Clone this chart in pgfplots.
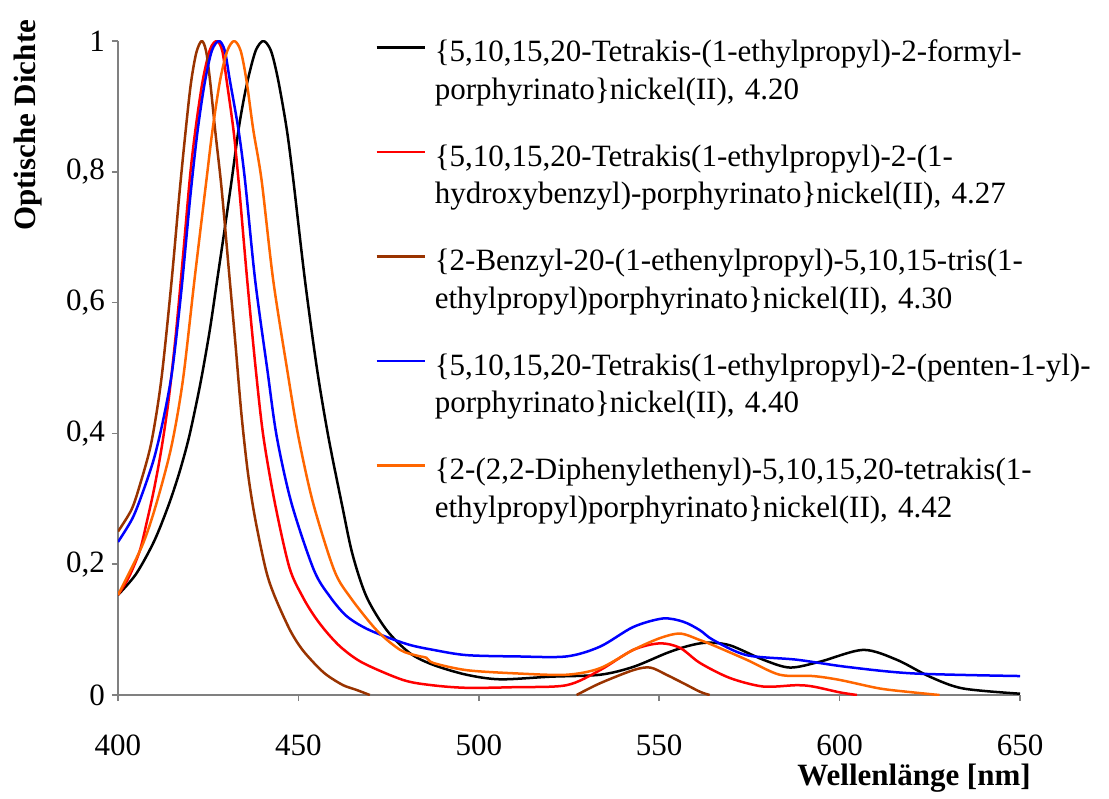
\documentclass[border=0pt]{standalone}
\usepackage{fontspec}
\setmainfont{Liberation Serif}
\usepackage{pgfplots}
\pgfplotsset{compat=1.18}
\definecolor{cbrown}{RGB}{153,51,0}
\definecolor{corange}{RGB}{255,102,0}
\definecolor{axgray}{RGB}{128,128,128}
\newcommand{\fs}{\fontsize{15.5}{18.6}\selectfont}

\begin{document}
\begin{tikzpicture}
\begin{axis}[
  name=ax,
  scale only axis,
  width=451pt, height=327pt,
  xmin=400, xmax=650, ymin=0, ymax=1,
  axis x line*=bottom, axis y line*=left,
  axis line style={axgray, line width=0.8pt},
  tick style={axgray, line width=0.8pt},
  tick align=outside, major tick length=3pt,
  xtick={400,450,500,550,600,650},
  ytick={0,0.2,0.4,0.6,0.8,1},
  /pgf/number format/assume math mode=true,
  yticklabel style={/pgf/number format/use comma, /pgf/number format/fixed},
  xticklabel style={yshift=-13.5pt},
  tick label style={font=\fs},
  xlabel={Wellenlänge [nm]},
  ylabel={Optische Dichte},
  xlabel style={font=\fs\bfseries, at={(axis description cs:0.8825,0)}, anchor=center, yshift=-41.5pt},
  ylabel style={font=\fs\bfseries, at={(axis description cs:-0.0998,0.871)}, anchor=center},
  legend image code/.code={\draw[#1, line width=1.25pt] (0pt,7.2pt) -- (24pt,7.2pt);},
  legend style={at={(axis cs:471.2,1.002)}, anchor=north west, draw=none, fill=none,
    font=\fs, inner sep=0pt, row sep=40pt, column sep=4.5pt,
    nodes={inner sep=0pt, text width=335pt, align=left},
    cells={anchor=base west}},
  every axis plot/.append style={line width=1.25pt, line join=round, smooth, tension=0.5},
  unbounded coords=jump,
]
\addplot[black] coordinates {
(400,0.153) (405,0.185) (410,0.235) (414,0.290) (417,0.340) (419.5,0.390)
(421.5,0.440) (423.3,0.490) (425.5,0.560) (427.5,0.635) (429.5,0.710) (431.5,0.787)
(433.4,0.864) (435,0.915) (436.6,0.955) (438.3,0.987) (440.3,1.0) (442.4,0.985)
(444.4,0.940) (446.8,0.864) (448.6,0.787) (451.8,0.635) (455.2,0.497) (458.3,0.395)
(462.0,0.293) (465,0.215) (468.9,0.150) (474.5,0.099) (480.9,0.064) (487.4,0.046)
(496.6,0.031) (505.9,0.024) (519.8,0.028) (533.6,0.031) (542.8,0.043) (552,0.064)
(558,0.075) (563.2,0.080) (569.6,0.076) (578.8,0.054) (586.2,0.042) (594.6,0.051)
(606.5,0.069) (615.8,0.054) (625,0.028) (634.2,0.010) (650,0.002)
};
\addlegendentry{\{5,10,15,20-Tetrakis-(1-ethylpropyl)-2-formyl-\\porphyrinato\}nickel(II), 4.20}
\addplot[red] coordinates {
(400,0.153) (403,0.180) (406,0.220) (408,0.265) (410,0.315) (412,0.375)
(414,0.450) (416,0.550) (418,0.670) (420,0.795) (421.6,0.870) (423.5,0.940)
(425.5,0.987) (427.4,1.0) (428.9,0.985) (430.1,0.940) (432.0,0.864) (433.4,0.787)
(435.8,0.635) (438.2,0.497) (440.3,0.395) (443.5,0.293) (447.5,0.195) (451.2,0.150)
(454.5,0.120) (458,0.095) (462,0.072) (467.9,0.049) (479,0.023) (487,0.015) (496.6,0.011)
(510,0.012) (524.3,0.015) (533.6,0.038) (542.8,0.069) (550.2,0.079) (555.8,0.072)
(561.3,0.049) (569.6,0.026) (578.8,0.013) (588,0.015) (592.6,0.013) (600.1,0.004)
(604.8,0)
};
\addlegendentry{\{5,10,15,20-Tetrakis(1-ethylpropyl)-2-(1-\\hydroxybenzyl)-porphyrinato\}nickel(II), 4.27}
\addplot[cbrown] coordinates {
(400,0.250) (403.7,0.283) (406,0.320) (409.2,0.385) (412,0.482) (414.8,0.630)
(417,0.765) (418.7,0.860) (420.2,0.935) (421.7,0.982) (423.2,1.0) (424.4,0.985)
(425.5,0.940) (427,0.860) (428.7,0.775) (430.8,0.645) (432.5,0.540) (434.2,0.430)
(436,0.340) (438,0.270) (441,0.191) (443.5,0.150) (447.7,0.099) (451,0.070)
(455,0.045) (458,0.030) (462.4,0.015) (466,0.008) (469.8,0.0)
(500,nan)
(527.1,0) (533.6,0.018) (542.8,0.038) (547.5,0.042) (552,0.031) (556.7,0.018)
(561.3,0.005) (564,0)
};
\addlegendentry{\{2-Benzyl-20-(1-ethenylpropyl)-5,10,15-tris(1-\\ethylpropyl)porphyrinato\}nickel(II), 4.30}
\addplot[blue] coordinates {
(400,0.234) (404,0.270) (407,0.312) (410,0.362) (412.5,0.420) (415,0.495)
(417.5,0.615) (420,0.760) (422,0.860) (424,0.935) (426,0.985) (428.0,1.0)
(429.6,0.985) (431,0.940) (433.4,0.864) (435.2,0.787) (438.0,0.635) (441.4,0.497)
(444.0,0.395) (448.1,0.293) (454.3,0.191) (458.8,0.150) (463.5,0.120) (469.8,0.099)
(480,0.078) (487.4,0.069) (496.6,0.061) (510.5,0.059) (524.3,0.059) (533.6,0.074)
(542.8,0.104) (551,0.117) (556.7,0.112) (561.3,0.099) (565,0.084) (574.2,0.061)
(588.1,0.054) (602,0.043) (620.4,0.033) (650,0.029)
};
\addlegendentry{\{5,10,15,20-Tetrakis(1-ethylpropyl)-2-(penten-1-yl)-\\porphyrinato\}nickel(II), 4.40}
\addplot[corange] coordinates {
(400,0.153) (406.6,0.227) (410.5,0.290) (414.8,0.380) (418.0,0.482) (421.2,0.635)
(424.5,0.787) (426.2,0.864) (428.3,0.940) (430.3,0.985) (432.2,1.0) (434,0.985)
(435.6,0.940) (437.5,0.864) (439.8,0.787) (443.0,0.635) (446.9,0.497) (450.0,0.395)
(454.1,0.293) (459.9,0.191) (464.3,0.150) (471.7,0.099) (478.2,0.069) (483,0.060)
(485.5,0.057) (487.4,0.049) (496.6,0.038) (510.5,0.033) (524.3,0.031) (533.6,0.041)
(542.8,0.069) (550.2,0.087) (555.8,0.094) (561.3,0.084) (565,0.076) (574.2,0.054)
(583.4,0.031) (592.6,0.029) (600.1,0.023) (611.1,0.010) (620.4,0.004) (627.7,0)
};
\addlegendentry{\{2-(2,2-Diphenylethenyl)-5,10,15,20-tetrakis(1-\\ethylpropyl)porphyrinato\}nickel(II), 4.42}
\end{axis}
\path ([xshift=-59pt,yshift=-50pt]ax.south west) rectangle ([xshift=44.5pt,yshift=20.5pt]ax.north east);
\end{tikzpicture}
\end{document}
